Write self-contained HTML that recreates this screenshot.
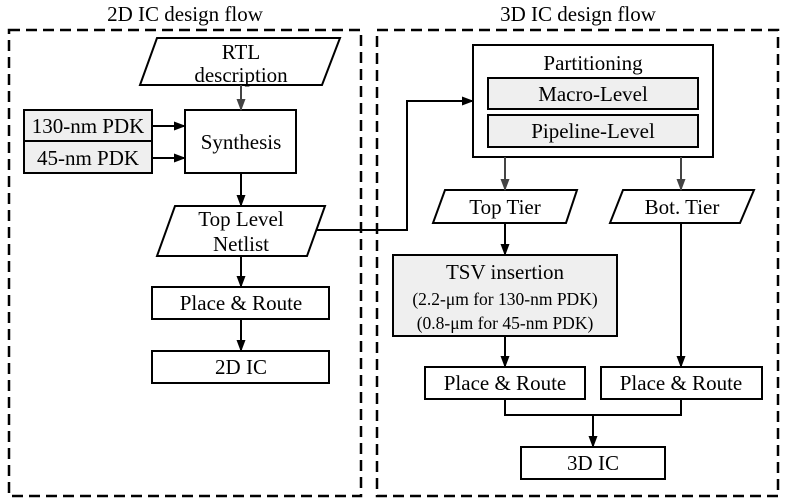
<!DOCTYPE html>
<html><head><meta charset="utf-8"><style>
html,body{margin:0;padding:0;background:#fff;}
svg{display:block;}
text{font-family:"Liberation Serif",serif;fill:#000;text-anchor:middle;}
</style></head><body>
<svg width="786" height="504" viewBox="0 0 786 504" xmlns="http://www.w3.org/2000/svg">
<defs>
<marker id="a" markerWidth="12" markerHeight="12" refX="11" refY="6" orient="auto" markerUnits="userSpaceOnUse"><path d="M0,1.5 L12,6 L0,10.5 Z" fill="#000"/></marker>
<marker id="g" markerWidth="12" markerHeight="12" refX="11" refY="6" orient="auto" markerUnits="userSpaceOnUse"><path d="M0,1.5 L12,6 L0,10.5 Z" fill="#444"/></marker>
</defs>
<g fill="none" stroke="#000" stroke-width="2.5" stroke-dasharray="11,6">
<rect x="9" y="30" width="352" height="466"/>
<rect x="377" y="30" width="401" height="466"/>
</g>
<text x="185" y="21" font-size="21">2D IC design flow</text>
<text x="578" y="21" font-size="21">3D IC design flow</text>
<g stroke="#000" stroke-width="2" fill="#fff">
<polygon points="157,38 340,38 322,85 140,85"/>
<rect x="185" y="110" width="111" height="63"/>
<rect x="24" y="110" width="128" height="31" fill="#efefef"/>
<rect x="24" y="141" width="128" height="32" fill="#efefef"/>
<polygon points="175,206 325,206 307,256 157,256"/>
<rect x="152" y="287" width="177" height="32"/>
<rect x="152" y="351" width="177" height="32"/>
<rect x="473" y="45" width="240" height="112"/>
<rect x="488" y="78" width="210" height="31" fill="#efefef"/>
<rect x="488" y="115" width="210" height="32" fill="#efefef"/>
<polygon points="445,190 577,190 566,223 433,223"/>
<polygon points="623,190 754,190 740,223 610,223"/>
<rect x="393" y="255" width="224" height="81" fill="#efefef"/>
<rect x="425" y="367" width="160" height="32"/>
<rect x="601" y="367" width="161" height="32"/>
<rect x="521" y="447" width="144" height="32"/>
</g>
<g stroke="#000" stroke-width="2" fill="none">
<line x1="241" y1="85" x2="241" y2="110" stroke="#444" marker-end="url(#g)"/>
<line x1="152" y1="126" x2="185" y2="126" marker-end="url(#a)"/>
<line x1="152" y1="158" x2="185" y2="158" marker-end="url(#a)"/>
<line x1="241" y1="173" x2="241" y2="206" marker-end="url(#a)"/>
<line x1="241" y1="256" x2="241" y2="287" marker-end="url(#a)"/>
<line x1="241" y1="319" x2="241" y2="351" marker-end="url(#a)"/>
<polyline points="316,230 407,230 407,101 473,101" marker-end="url(#a)"/>
<line x1="505" y1="157" x2="505" y2="190" stroke="#444" marker-end="url(#g)"/>
<line x1="681" y1="157" x2="681" y2="190" stroke="#444" marker-end="url(#g)"/>
<line x1="505" y1="223" x2="505" y2="255" marker-end="url(#a)"/>
<line x1="505" y1="336" x2="505" y2="367" marker-end="url(#a)"/>
<line x1="681" y1="223" x2="681" y2="367" marker-end="url(#a)"/>
<polyline points="505,399 505,415 681,415 681,399"/>
<line x1="593" y1="415" x2="593" y2="447" marker-end="url(#a)"/>
</g>
<g font-size="21">
<text x="241" y="59">RTL</text>
<text x="241" y="82">description</text>
<text x="241" y="149">Synthesis</text>
<text x="88" y="133">130-nm PDK</text>
<text x="88" y="165">45-nm PDK</text>
<text x="241" y="226">Top Level</text>
<text x="241" y="251">Netlist</text>
<text x="241" y="310">Place &amp; Route</text>
<text x="241" y="374">2D IC</text>
<text x="593" y="70">Partitioning</text>
<text x="593" y="101">Macro-Level</text>
<text x="593" y="138">Pipeline-Level</text>
<text x="505" y="214">Top Tier</text>
<text x="682" y="214">Bot. Tier</text>
<text x="505" y="279">TSV insertion</text>
<text x="505" y="390">Place &amp; Route</text>
<text x="681" y="390">Place &amp; Route</text>
<text x="593" y="470">3D IC</text>
</g>
<g font-size="17.5">
<text x="505" y="305">(2.2-μm for 130-nm PDK)</text>
<text x="505" y="329">(0.8-μm for 45-nm PDK)</text>
</g>
</svg>
</body></html>
